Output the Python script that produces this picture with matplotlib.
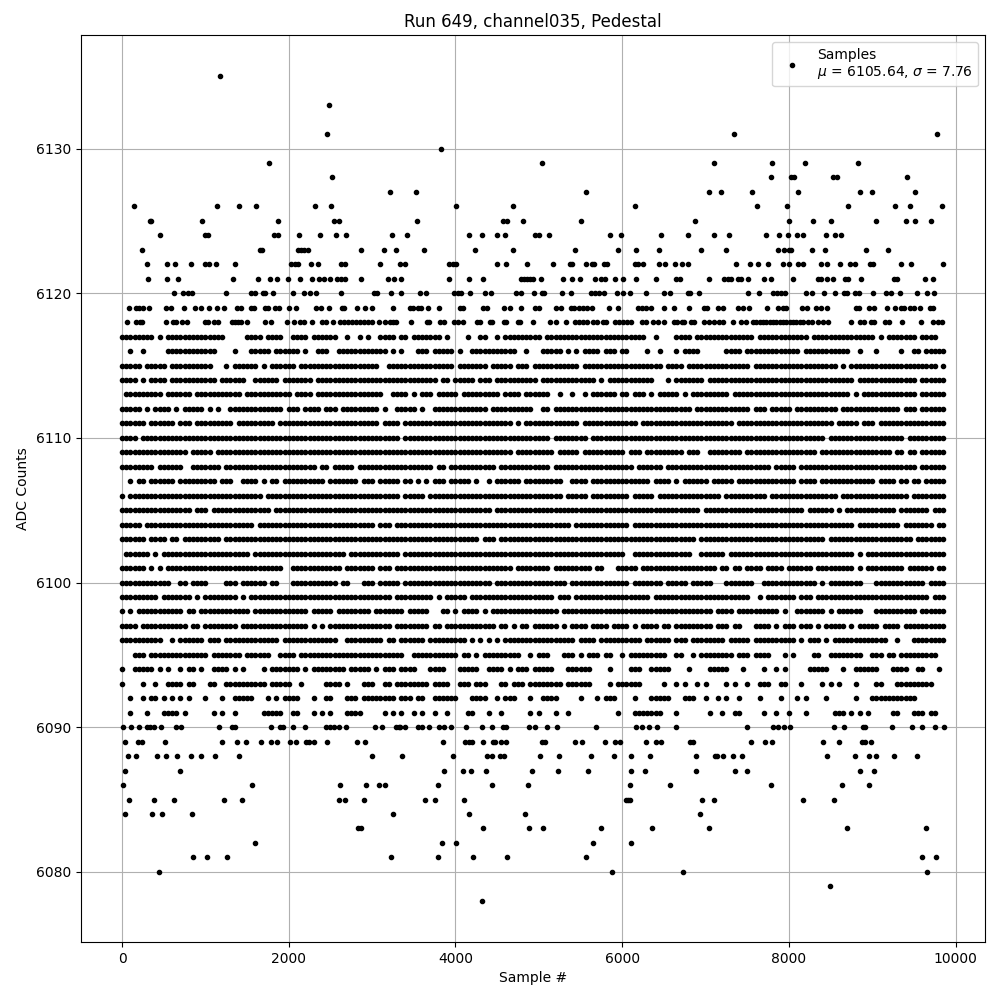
import matplotlib
matplotlib.use("Agg")
import matplotlib.pyplot as plt

# Sample numbers, one list per ADC level
sparse_samples = {
    6135: [1172],
    6133: [2480],
    6131: [2456, 7340, 9776],
    6130: [3828],
    6129: [1760, 5040, 7100, 7796, 8192, 8828],
    6128: [2516, 7784, 8024, 8060, 8528, 8576, 9416],
    6127: [3212, 3528, 5568, 7040, 7184, 7556, 8108, 8852, 8996, 9512],
    6126: [140, 1136, 1400, 1604, 2312, 2504, 4008, 4692, 6156, 7616, 7976, 8708, 9272, 9452, 9836],
    6125: [332, 352, 956, 1868, 2540, 2600, 3540, 4572, 4620, 4812, 5508, 6872, 8000, 8288, 8504,
           9044, 9404, 9512, 9704],
    6124: [452, 992, 1028, 1820, 1868, 2120, 2372, 2564, 2684, 3240, 3420, 4164, 4320, 4500, 4596,
           4956, 5004, 5124, 5856, 5988, 6468, 6788, 7100, 7280, 7724, 7880, 7988, 8096, 8168, 8444,
           8552, 8624],
    6123: [236, 1652, 1684, 2108, 2148, 2188, 2228, 2864, 3140, 3284, 3624, 4236, 4692, 5436, 5952,
           6168, 6444, 6944, 7244, 7868, 7940, 8000, 8024, 8276, 8432, 8924, 9188],
    6122: [296, 536, 632, 824, 992, 1040, 1124, 1352, 2024, 2072, 2108, 2264, 2348, 2624, 2672, 3092,
           3336, 3396, 3924, 3972, 4008, 4500, 4608, 4860, 5172, 5376, 5400, 5568, 5640, 5664, 5784,
           5820, 6156, 6192, 6252, 6444, 6516, 6636, 6716, 6788, 7364, 7532, 7628, 7748, 7928, 8000,
           8108, 8168, 8384, 8456, 8612, 8732, 8792, 8972, 9008, 9344, 9464, 9848],
    6121: [308, 536, 668, 1328, 1628, 1772, 1856, 1988, 2132, 2276, 2360, 2420, 2492, 2576, 2624, 2672,
           2864, 3188, 3260, 3348, 3924, 4164, 4332, 4788, 4824, 4860, 4896, 4932, 5028, 5292, 5400,
           5496, 5676, 5748, 5796, 5916, 6012, 6168, 6408, 6648, 6692, 7040, 7220, 7268, 7304, 7388,
           7424, 7508, 7700, 7784, 8048, 8348, 8384, 8456, 8528, 8672, 8708, 8864, 9260, 9296, 9632,
           9728],
    6120: [620, 728, 788, 836, 1244, 1544, 1592, 1688, 1712, 1808, 2048, 2180, 2252, 2324, 2624, 3020,
           3056, 3224, 3348, 3576, 3648, 3984, 4032, 4068, 4176, 4356, 4428, 4728, 4788, 4944, 5040,
           5064, 5280, 5388, 5628, 5676, 5724, 5784, 5940, 6012, 6096, 6288, 6504, 6576, 6788, 6812,
           6920, 7508, 7640, 7808, 7856, 7904, 7952, 8204, 8276, 8420, 8552, 8660, 8696, 8792, 8840,
           9008, 9164, 9224, 9332, 9536, 9656, 9740],
    6119: [80, 164, 200, 248, 320, 524, 584, 740, 872, 944, 1040, 1136, 1220, 1376, 1424, 1544, 1580,
           1712, 1748, 1832, 1880, 2000, 2092, 2324, 2384, 2480, 2636, 2660, 2816, 2912, 2996, 3248,
           3456, 3492, 3552, 3588, 3672, 3804, 4056, 4092, 4332, 4380, 4584, 4656, 4788, 4956, 5004,
           5208, 5268, 5388, 5424, 5484, 5532, 5580, 5640, 5844, 5952, 6192, 6240, 6288, 6348, 6504,
           6624, 6800, 6980, 7016, 7148, 7208, 7388, 7448, 7520, 7736, 7868, 7928, 7964, 8156, 8216,
           8324, 8384, 8456, 8804, 8840, 8960, 9020, 9172, 9272, 9344, 9380, 9452, 9500, 9572, 9692,
           9728],
    6118: [56, 164, 212, 236, 524, 608, 644, 716, 776, 992, 1028, 1100, 1148, 1316, 1352, 1388, 1424,
           1496, 1712, 1784, 1976, 2060, 2132, 2180, 2276, 2396, 2444, 2528, 2612, 2660, 2708, 2756,
           2804, 2852, 2900, 2948, 2996, 3080, 3152, 3212, 3252, 3288, 3468, 3660, 3684, 3816, 3864,
           3984, 4032, 4092, 4260, 4296, 4416, 4440, 4584, 4608, 4752, 4776, 4932, 5136, 5208, 5328,
           5436, 5484, 5532, 5580, 5652, 5700, 5772, 5808, 5916, 5964, 6012, 6060, 6108, 6240, 6288,
           6372, 6432, 6504, 6624, 6660, 6716, 6740, 6824, 6860, 6980, 7040, 7100, 7160, 7208, 7328,
           7424, 7488, 7568, 7608, 7648, 7688, 7728, 7768, 7808, 7848, 7888, 7928, 7968, 8008, 8048,
           8088, 8128, 8168, 8228, 8276, 8348, 8408, 8468, 8744, 8852, 8900, 8984, 9020, 9152, 9200,
           9356, 9584, 9728, 9788, 9836],
    6090: [8, 104, 200, 296, 332, 380, 464, 644, 704, 1160, 1316, 1352, 1784, 1892, 1928, 2048, 2192,
           2444, 2492, 2540, 2600, 2684, 3032, 3116, 3284, 3320, 3336, 3396, 3552, 3600, 3684, 3804,
           3864, 3948, 4128, 4320, 4440, 4572, 4608, 4884, 4956, 5100, 5220, 5688, 6168, 6240, 6324,
           6420, 6648, 7496, 7808, 7868, 7940, 8012, 8540, 8660, 8888, 8912, 9236, 9476, 9596, 9752,
           9860],
    6089: [32, 188, 236, 512, 1196, 1376, 1484, 1664, 1784, 1856, 2012, 2084, 2204, 2240, 2300, 2456,
           2816, 2912, 3852, 4116, 4164, 4200, 4332, 4452, 4476, 4548, 4608, 5040, 5076, 5436, 5520,
           5796, 5916, 5976, 6288, 6408, 6468, 6812, 6848, 7544, 7712, 7796, 8408, 8600, 8876, 8912,
           8984],
    6088: [68, 164, 416, 524, 656, 824, 944, 1112, 1400, 2996, 3360, 3972, 4380, 4440, 4536, 4584,
           5016, 5244, 5628, 5904, 6108, 6336, 6884, 7112, 7136, 7208, 7328, 7436, 8456, 8792, 8960,
           9044, 9260, 9536],
    6087: [32, 692, 3864, 4092, 4188, 4368, 4920, 5232, 5592, 6108, 6276, 6884, 7352, 7496, 8852, 9020],
    6086: [8, 1556, 2612, 2924, 3080, 3152, 3792, 4440, 4872, 6096, 6576, 7784, 8636, 8960],
    6085: [80, 380, 620, 1220, 1436, 2600, 2672, 2900, 3636, 3756, 4104, 6048, 6072, 6096, 6956, 7100,
           8168, 8540],
    6084: [32, 356, 476, 836, 3248, 4164, 4836, 6932],
    6083: [2828, 2864, 4332, 4884, 5052, 5748, 6360, 7040, 8696, 9644],
    6082: [1592, 3840, 4008, 5652, 6108],
    6081: [848, 1016, 1256, 3224, 3792, 4212, 4620, 5568, 9596, 9764],
    6080: [440, 5880, 6728, 9656],
    6079: [8492],
    6078: [4320],
}

# Occupancy of the crowded levels, one character per 50 samples, 1000 samples per group
cell_width = 50
dense_rows = {
    6117: "########.#.######### #####.....####.####. .####.######..#..#.# ..####.##.#######.#. ...#..##..#.######## #.################## ######..#....####.## ############.####### #####.############# ##.#.#######.####",
    6116: "..#..#.....######### ###....#...#####.### ###.#..###..######## ####.#.#...###.##### .#..###########..#.. .#####.#.#.####.###. ##....#..#...#.####. .....####.########## ###.###########..#.. .#.....#..##.#####",
    6115: "#####.#####.######## ##...#.######.#.#### ##.################# ##..################ .#######.#####.###.# ##########.######### ##########.####.#### ###########.######## ############.#.##### ################.#",
    6114: "####.#.####.######## ###.######..######.# ######.############# ################.##. #####.###.########## .#############.#.### ########...#.####### .################### ################.### ###########.######",
    6113: ".#########.######.## #########.########## #.####.############# ###..####.#.###.#### #.#########.####.### ###..#..#..#.######. ##.###.#.#####.#.### ######.############# ###############.#.## ###########.######",
    6112: "#####.#.####.#.##### .#.#..#############. ###.####.###.####### ##.#..#####.#..##### ########.##########. .##.################ #################.## ###########.###.#### #.##########.####### #######.###.######",
    6111: "######.######.###.## #######.#########.## #################### ##.####.############ ##############.#.### ##########.######### ####.############### #######.############ ###########.#####.## #.################",
    6110: "####.############### #################### #################### #######.############ #################### ###.########.####### #################### #################### #########.########## ########.#########",
    6109: "################.### ##.################# #################### #################### ##############.##### ####.#####.######### #.###.#########.###. .########.########## #######.############ #####.##.##.######",
    6108: "########.######..### ####.############### #######.##.#####.### ###############.##.# ##########.######### ###.################ ###.######.######### ################.### ##.################# ###########.######",
    6107: "..#.##.######.###### ###.###..####.#.##.# #########.#######.## #.#####.##.#.#.###.# ####.#..#.######.### ######..####.####### #######.####.#.##### #.#####.############ ##.####.############ #.####.##.##.#####",
    6106: "#.################## ##############.##### #################### #######.#####.###### #################### ######.#####.####### ##.#####.########### ####.##########.#### ############.####### #########.########",
    6105: "#################.## #.##############.### #################### #################### #########.########## #################### ###################. #################### ####.######.#.###### ######.#######.###",
    6104: "#####.############## ############.####### #################### #.###.############## #################### ########.########### ##.################# #################### ################.### #######.#######.##",
    6103: "######.####.##.##### ####.############### #################### #################### ######.###.######### #################### ##################.# #################### #########.########## ##########.#######",
    6102: ".######.#.########## ###########.######## ##############.##### #######.############ #################### #################### #..##############..# #####.############## ################.#.# ##################",
    6101: "######.#.#.######### ###################. .############.###### #.###.############## ##############.##### ###.#########.##...# ####.############### ###.##.##.####.####. ######.#########.#.# ########.######.##",
    6100: "############..##.### #....###.######.##.. .###########.##...## #.#####.############ #########.########## #######.############ ##.#######.#####.### ##...#######..###### #######.#.########.. .############.####",
    6099: "#########.#######.#. ########.#.######### #################### #####.#########.#.## ###.################ ####.###.########### #######.############ ###########..#.##### ##.###.############# ##############.###",
    6098: "#.#.###########.##.# ###########.######## #####.#####.######## .#######.#####...##. #.####.#.########### #####.############## #################### ##.####.##########.# ..#######.#.######.. .##########.######",
    6097: "####.###########.##. ########.########### #####.#.#.########## #####.########.##.## ##########.##.#.##.# #####.#.####.####.## ##.#.####.##.####### ##.###.##...####.#.# ##.###.#.#####.#.### ##.####.##########",
    6096: "##########..#.###### .###.#############.# ############..###### ###.##.######.###### ###.#.#.#.#.######## #########.####.##### #####.######.###.### #####.#####.######## ##.#.###.#.######### ####..#...########",
    6095: "...###.############# #.#######.######..## ##.################# ########..########## #.##.#.#########..#. ###...###.#.###.##.. #.#########..##..#.# #######.###.####...# .#....##..########.. ###.##.#########..",
    6094: "#..#####.#.#..#.##.# ..####.#.#....#.#### ###.#.########.##### .#.###.####...####.. .#####..####.#.###.# ####...######....#.. ..###..#####....#... .#####...#....#..#.# .....#####...#..#### ##...####..##...#.",
    6093: "#....#..#..####.##.. .##..##########.#### #..#.....####.#...## #..##.########.####. .###.###...##.###.## ######.######....#.# #####.....#..#.#..#. #....#.#..#..###..## ...#....#.#.#...#... .##...#########...",
    6092: "..#..#.##.#.#.#.#... #...#..#####...#.#.# ###...#..##...###.## ######.###.##..##### #...####..#.###...#. .####.....#...#.###. ...#...#####...###.. #..#.#..#....#....#. ..#.#....#......#... ###########.......",
    6091: "..#...#...####.#.... ..#.#..#......#####. .##...#.#.#...####.. ...#.#.#..#.#..#..#. ...##...#..#......#. #...#..#...........# ...#######...#...... .#..#..##.....#..#.. #...#......###.#.#.# .....##...###.##..",
}

samples = []
counts = []
for level, row in sparse_samples.items():
    samples += row
    counts += [level] * len(row)
for level, row in dense_rows.items():
    cells = row.replace(" ", "")
    for i, c in enumerate(cells):
        if c == "#":
            samples.append(i * cell_width)
            counts.append(level)

mean_counts = 6105.64
std_counts = 7.76

fig, ax = plt.subplots(figsize=(10, 10))
ax.plot(samples, counts, "k.",
        label="Samples\n$\\mu$ = %.2f, $\\sigma$ = %.2f" % (mean_counts, std_counts))
ax.set_xlabel("Sample #")
ax.set_ylabel("ADC Counts")
ax.set_title("Run 649, channel035, Pedestal")
ax.grid(True)
ax.legend(loc="upper right")
fig.subplots_adjust(left=0.081, right=0.985, top=0.965, bottom=0.058)
plt.savefig("out.png", dpi=100)
